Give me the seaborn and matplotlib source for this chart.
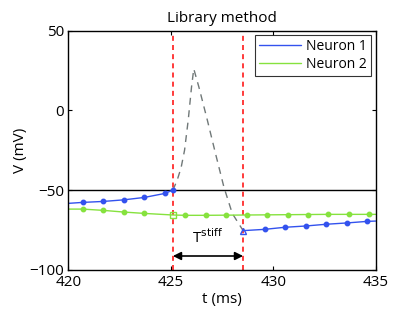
import numpy as np
import pandas as pd
import matplotlib
matplotlib.use('Agg')
import matplotlib.pyplot as plt
import seaborn as sns

# Neuron 1 before spike (ends at threshold crossing)
n1_pre_t = [420.0, 420.7, 421.7, 422.7, 423.7, 424.7, 425.1]
n1_pre_v = [-58.3, -57.7, -57.1, -56.1, -54.6, -52.1, -50.0]
# Neuron 1 after reset
n1_post_t = [428.53, 429.58, 430.57, 431.58, 432.59, 433.58, 434.59, 435.0]
n1_post_v = [-75.4, -74.6, -73.3, -72.5, -71.4, -70.6, -69.6, -69.4]
# Neuron 2
n2_t = [420.0, 420.7, 421.7, 422.7, 423.7, 425.1, 425.7, 426.7, 427.7, 428.7,
        429.7, 430.7, 431.7, 432.7, 433.7, 434.7, 435.0]
n2_v = [-61.9, -61.9, -62.7, -63.75, -64.6, -65.6, -65.8, -65.8, -65.7, -65.6,
        -65.5, -65.4, -65.3, -65.2, -65.2, -65.2, -65.2]
# Library spike waveform (gray dashed)
spike_t = [425.1, 425.31, 425.5, 425.67, 425.85, 426.01, 426.12, 426.37, 426.78, 427.18,
           427.59, 428.0, 428.53]
spike_v = [-50.0, -43.75, -36.0, -25.0, -6.0, 14.6, 26.0, 14.6, -6.0, -27.0, -48.0, -64.6, -75.4]

t_spike = 425.1
t_reset = 428.53
v_thresh = -50

blue = '#3352ee'
green = '#86e23e'

sns.set_style('ticks')
plt.rcParams['font.family'] = ['Open Sans', 'DejaVu Sans']
plt.rcParams['font.size'] = 11
for k in ['text.color', 'axes.labelcolor', 'xtick.color', 'ytick.color', 'axes.edgecolor']:
    plt.rcParams[k] = 'black'

fig, ax = plt.subplots(figsize=(4.15, 3.12), dpi=100)
fig.subplots_adjust(left=0.165, right=0.905, top=0.902, bottom=0.135)

ax.axhline(v_thresh, color='black', lw=1)
ax.axvline(t_spike, color='#ff1a1a', ls=(0, (3, 2.5)), lw=1.2)
ax.axvline(t_reset, color='#ff1a1a', ls=(0, (3, 2.5)), lw=1.2)

sns.lineplot(x=spike_t, y=spike_v, ax=ax, color='#707878', lw=1, ls=(0, (5, 4)), sort=False)

df1a = pd.DataFrame({'t': n1_pre_t, 'v': n1_pre_v})
df1b = pd.DataFrame({'t': n1_post_t, 'v': n1_post_v})
df2 = pd.DataFrame({'t': n2_t, 'v': n2_v})

sns.lineplot(data=df1a, x='t', y='v', ax=ax, color=blue, lw=1, label='Neuron 1')
sns.lineplot(data=df2, x='t', y='v', ax=ax, color=green, lw=1, label='Neuron 2')
sns.lineplot(data=df1b, x='t', y='v', ax=ax, color=blue, lw=1)

# sample markers (skip edge points)
ax.plot(n1_pre_t[1:], n1_pre_v[1:], 'o', color=blue, ms=3.2)
ax.plot(n1_post_t[1:-1], n1_post_v[1:-1], 'o', color=blue, ms=3.2)
ax.plot(n1_post_t[0], n1_post_v[0], '^', mfc='none', mec=blue, ms=5, mew=1)
mask = [i for i in range(1, len(n2_t) - 1) if n2_t[i] != t_spike]
ax.plot([n2_t[i] for i in mask], [n2_v[i] for i in mask], 'o', color=green, ms=3.2)
ax.plot(t_spike, n2_v[n2_t.index(t_spike)], 's', mfc='none', mec=green, ms=4.5, mew=1)

ax.annotate('', xy=(t_spike, -91.3), xytext=(t_reset, -91.3),
            arrowprops=dict(arrowstyle='<|-|>', color='black', lw=1.2,
                            mutation_scale=12, shrinkA=0, shrinkB=0))
ax.text(426.8, -80, r'T$^{\rm stiff}$', ha='center', va='center', fontsize=11)

ax.set_xlim(420, 435)
ax.set_ylim(-100, 50)
ax.set_xticks([420, 425, 430, 435])
ax.set_yticks([-100, -50, 0, 50])
ax.tick_params(direction='in', top=True, right=True, length=3, width=0.8)
ax.tick_params(axis='x', pad=4)
ax.tick_params(axis='y', pad=3)
for s in ax.spines.values():
    s.set_visible(True)
    s.set_linewidth(1)
ax.set_xlabel('t (ms)', labelpad=1)
ax.set_ylabel('V (mV)', labelpad=1)
ax.set_title('Library method', fontsize=11, pad=6)

leg = ax.legend(loc='upper right', frameon=True, fancybox=False, edgecolor='black',
                handlelength=3.0, borderpad=0.3, labelspacing=0.2, borderaxespad=0.3,
                handletextpad=0.4, fontsize=10)
leg.get_frame().set_linewidth(0.8)

fig.savefig('out.png', dpi=100)
